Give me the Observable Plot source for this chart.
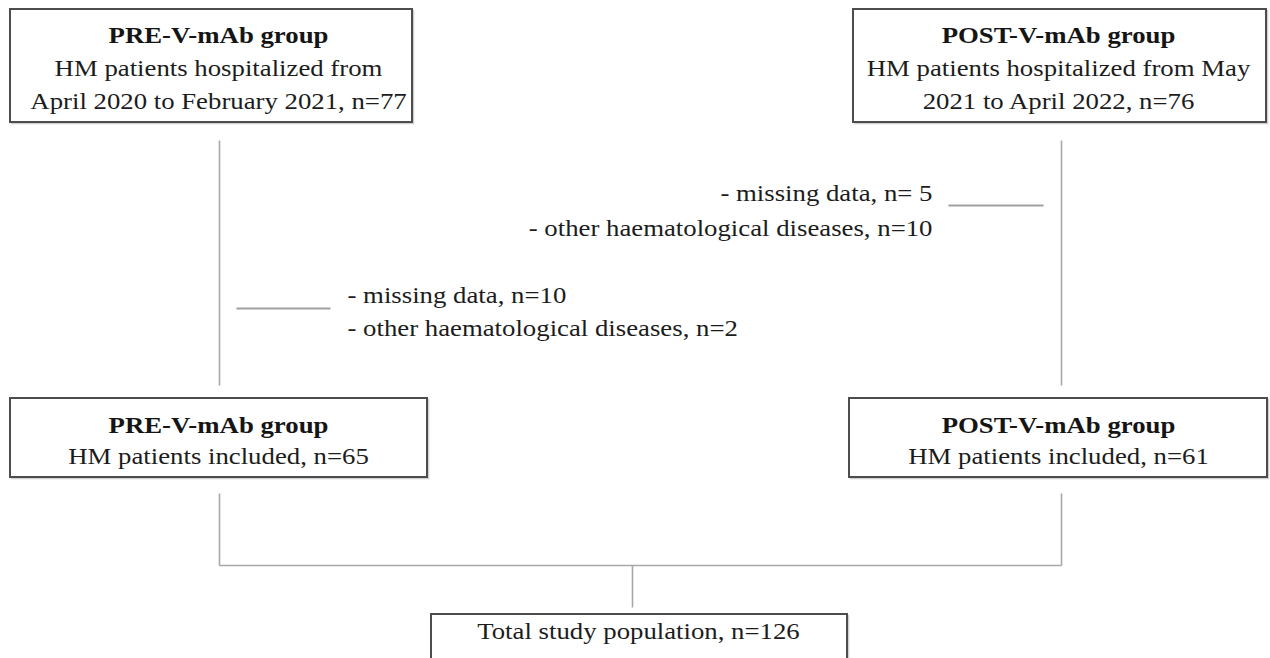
<!DOCTYPE html>
<html>
<head>
<meta charset="utf-8">
<script src="https://cdn.jsdelivr.net/npm/d3@7"></script>
<script src="https://cdn.jsdelivr.net/npm/@observablehq/plot@0.6"></script>
<style>
  html, body { margin: 0; padding: 0; background: #ffffff; }
  #chart { width: 1270px; height: 658px; overflow: hidden; }
</style>
</head>
<body>
<div id="chart"></div>
<script>
// ---- Content ----
const groupTitles = ["PRE-V-mAb group", "POST-V-mAb group"];
const hospitalizedLines = [
  ["HM patients hospitalized from", "April 2020 to February 2021, n=77"],
  ["HM patients hospitalized from May", "2021 to April 2022, n=76"]
];
const hospitalizedN = [77, 76];
const includedLines = ["HM patients included, n=65", "HM patients included, n=61"];
const includedN = [65, 61];
const excludedPost = ["- missing data, n= 5", "- other haematological diseases, n=10"];
const excludedPre = ["- missing data, n=10", "- other haematological diseases, n=2"];
const totalLine = "Total study population, n=126";
const totalN = 126;

// ---- Layout (pixel frame of the flowchart) ----
const L = {
  boxes: [
    {x1: 10, x2: 412, y1: 9, y2: 122},     // top left
    {x1: 853, x2: 1266, y1: 9, y2: 122},   // top right
    {x1: 10, x2: 427, y1: 398, y2: 477},   // middle left
    {x1: 849, x2: 1267, y1: 398, y2: 477}, // middle right
    {x1: 431, x2: 847, y1: 614, y2: 668}   // bottom (cut)
  ],
  colLeft: 219, colRight: 1061, colMid: 632,
  textLeft: 218, textRight: 1058, textMid: 638
};

const connectors = [
  {x1: L.colLeft, y1: 140, x2: L.colLeft, y2: 385},
  {x1: L.colRight, y1: 140, x2: L.colRight, y2: 385},
  {x1: L.colLeft, y1: 493, x2: L.colLeft, y2: 565},
  {x1: L.colRight, y1: 493, x2: L.colRight, y2: 565},
  {x1: L.colLeft, y1: 565, x2: L.colRight, y2: 565},
  {x1: L.colMid, y1: 565, x2: L.colMid, y2: 607}
];
const exclusionTicks = [
  {x1: 948, y1: 205, x2: 1043, y2: 205},
  {x1: 236, y1: 308, x2: 330, y2: 308}
];

// Text rows built from the content arrays
const boldRows = [
  {t: groupTitles[0], x: L.textLeft, y: 42},
  {t: groupTitles[1], x: L.textRight, y: 42},
  {t: groupTitles[0], x: L.textLeft, y: 432},
  {t: groupTitles[1], x: L.textRight, y: 432}
];
const centerRows = [
  {t: hospitalizedLines[0][0], x: L.textLeft, y: 75},
  {t: hospitalizedLines[0][1], x: L.textLeft, y: 108},
  {t: hospitalizedLines[1][0], x: L.textRight, y: 75},
  {t: hospitalizedLines[1][1], x: L.textRight, y: 108},
  {t: includedLines[0], x: L.textLeft, y: 463},
  {t: includedLines[1], x: L.textRight, y: 463},
  {t: totalLine, x: L.textMid, y: 638}
];
const endRows = [
  {t: excludedPost[0], x: 932, y: 200},
  {t: excludedPost[1], x: 932, y: 235}
];
const startRows = [
  {t: excludedPre[0], x: 347, y: 302},
  {t: excludedPre[1], x: 347, y: 335}
];

const font = "'Liberation Serif', 'Times New Roman', serif";
const fs = 22.5;
const textOpts = {x: "x", y: "y", text: "t", fontFamily: font, fontSize: fs, lineAnchor: "bottom", fill: "#1c1c1c"};

const chart = Plot.plot({
  width: 1270,
  height: 658,
  margin: 0,
  x: {domain: [0, 1270], range: [0, 1270], axis: null},
  y: {domain: [0, 658], range: [0, 658], axis: null},
  style: {background: "#ffffff"},
  marks: [
    Plot.link(connectors, {x1: "x1", y1: "y1", x2: "x2", y2: "y2", stroke: "#a8a8a8", strokeWidth: 1.6}),
    Plot.link(exclusionTicks, {x1: "x1", y1: "y1", x2: "x2", y2: "y2", stroke: "#a0a0a0", strokeWidth: 2}),
    Plot.rect(L.boxes, {x1: d => d.x1 + 1.5, x2: d => d.x2 + 1.5, y1: d => d.y1 + 1.5, y2: d => d.y2 + 1.5, fill: "none", stroke: "#d0d0d0", strokeWidth: 1.5}),
    Plot.rect(L.boxes, {x1: "x1", x2: "x2", y1: "y1", y2: "y2", fill: "#ffffff", stroke: "#4d4d4d", strokeWidth: 2}),
    Plot.text(boldRows, {...textOpts, fontWeight: "bold", textAnchor: "middle", fill: "#151515"}),
    Plot.text(centerRows, {...textOpts, textAnchor: "middle"}),
    Plot.text(endRows, {...textOpts, textAnchor: "end"}),
    Plot.text(startRows, {...textOpts, textAnchor: "start"})
  ]
});

// The reference typesetting is horizontally widened; stretch each glyph run about its anchor.
chart.querySelectorAll("text").forEach(t => {
  const x = +(t.getAttribute("x") || 0);
  const y = +(t.getAttribute("y") || 0);
  const tr = t.getAttribute("transform") || "";
  t.removeAttribute("x");
  t.removeAttribute("y");
  t.setAttribute("transform", `${tr} translate(${x},${y}) scale(1.19,1)`);
});

document.getElementById("chart").appendChild(chart);
</script>
</body>
</html>
